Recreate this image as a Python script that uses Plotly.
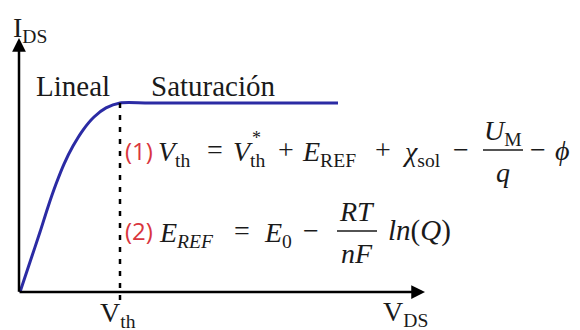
import plotly.graph_objects as go

# ---- data (normalised: V_DS / V_th , I_DS / I_sat) ----
V_DS = [0, 0.10, 0.20, 0.28, 0.36, 0.44, 0.53, 0.63, 0.74, 0.86, 1.0, 1.3, 3.18]
I_DS = [0, 0.159, 0.317, 0.450, 0.571, 0.677, 0.772, 0.857, 0.926, 0.974, 1.0, 1.0, 1.0]
V_TH = 1.0
X_AXIS_END = 4.05
Y_AXIS_END = 1.344

W, H = 580, 330
SERIF = "Liberation Serif"
SANS = "Open Sans"
INK = "#1a1a1a"
RED = "#d9363e"
BLUE = "#2b2ba4"


def P(px, py):
    return px / W, 1 - py / H


fig = go.Figure()
fig.add_trace(go.Scatter(x=V_DS, y=I_DS, mode="lines",
                         line=dict(color=BLUE, width=3, shape="spline", smoothing=0.8),
                         hoverinfo="skip", showlegend=False))

shapes = [
    dict(type="line", xref="x", yref="y", x0=V_TH, x1=V_TH, y0=1.0, y1=-0.045,
         line=dict(color="black", width=2.5, dash="5px,7px")),
]

ann = []
# axis arrows
ann.append(dict(xref="x", yref="y", axref="x", ayref="y", x=-0.01, y=Y_AXIS_END,
                ax=-0.01, ay=-0.006, showarrow=True, arrowhead=2, arrowsize=1.1,
                arrowwidth=2.5, arrowcolor="black", text=""))
ann.append(dict(xref="x", yref="y", axref="x", ayref="y", x=X_AXIS_END, y=0,
                ax=-0.02, ay=0, showarrow=True, arrowhead=2, arrowsize=1.1,
                arrowwidth=2.5, arrowcolor="black", text=""))


def txt(text, px, py, size=28, color=INK, family=SERIF, xanchor="left", yanchor="middle"):
    x, y = P(px, py)
    ann.append(dict(xref="paper", yref="paper", x=x, y=y, text=text, showarrow=False,
                    xanchor=xanchor, yanchor=yanchor,
                    font=dict(size=size, color=color, family=family)))


def bar(x0, x1, py):
    shapes.append(dict(type="line", xref="paper", yref="paper",
                       x0=x0 / W, x1=x1 / W, y0=1 - py / H, y1=1 - py / H,
                       line=dict(color=INK, width=1.5)))


# axis labels
txt("I<sub>DS</sub>", 11, 29)
txt("V<sub>th</sub>", 98, 314)
txt("V<sub>DS</sub>", 381, 313)
txt("Lineal", 34, 86, size=29)
txt("Saturación", 149, 86, size=29)

# equation (1)
y1 = 150
txt("(1)", 123, y1, size=24, color=RED, family=SANS)
txt("<i>V</i><sub>th</sub>", 156, y1 + 3)
txt("=", 205, y1 - 1)
txt("<i>V</i><sub>th</sub>", 231, y1 + 3)
txt("*", 250, y1 - 12, size=18)
txt("+", 276, y1 - 1)
txt("<i>E</i><sub>REF</sub>", 300, y1 + 3)
txt("+", 373, y1 - 1)
txt("<i>χ</i><sub>sol</sub>", 400, y1 + 3)
txt("−", 451, y1 - 1)
txt("<i>U</i><sub>M</sub>", 503, y1 - 18, xanchor="center")
bar(483, 523, y1)
txt("<i>q</i>", 503, y1 + 22, xanchor="center")
txt("−", 528, y1 - 1)
txt("<i>ϕ</i>", 553, y1)

# equation (2)
y2 = 231
txt("(2)", 123, y2, size=24, color=RED, family=SANS)
txt("<i>E</i><sub><i>REF</i></sub>", 157, y2 + 3)
txt("=", 232, y2 - 1)
txt("<i>E</i><sub>0</sub>", 262, y2 + 3)
txt("−", 301, y2 - 1)
txt("<i>RT</i>", 357, y2 - 20, xanchor="center")
bar(337, 377, y2)
txt("<i>nF</i>", 357, y2 + 22, xanchor="center")
txt("<i>ln</i>(<i>Q</i>)", 386, y2, size=29)

fig.update_layout(
    width=W, height=H, margin=dict(l=0, r=0, t=0, b=0, autoexpand=False),
    paper_bgcolor="white", plot_bgcolor="white",
    xaxis=dict(range=[-0.2, 5.6], visible=False, fixedrange=True),
    yaxis=dict(range=[-38 / 189, 292 / 189], visible=False, fixedrange=True),
    shapes=shapes, annotations=ann, showlegend=False,
)

fig.write_html("out.html", config={"displayModeBar": False},
               post_script="document.body.style.margin='0';document.body.style.overflow='hidden';")
